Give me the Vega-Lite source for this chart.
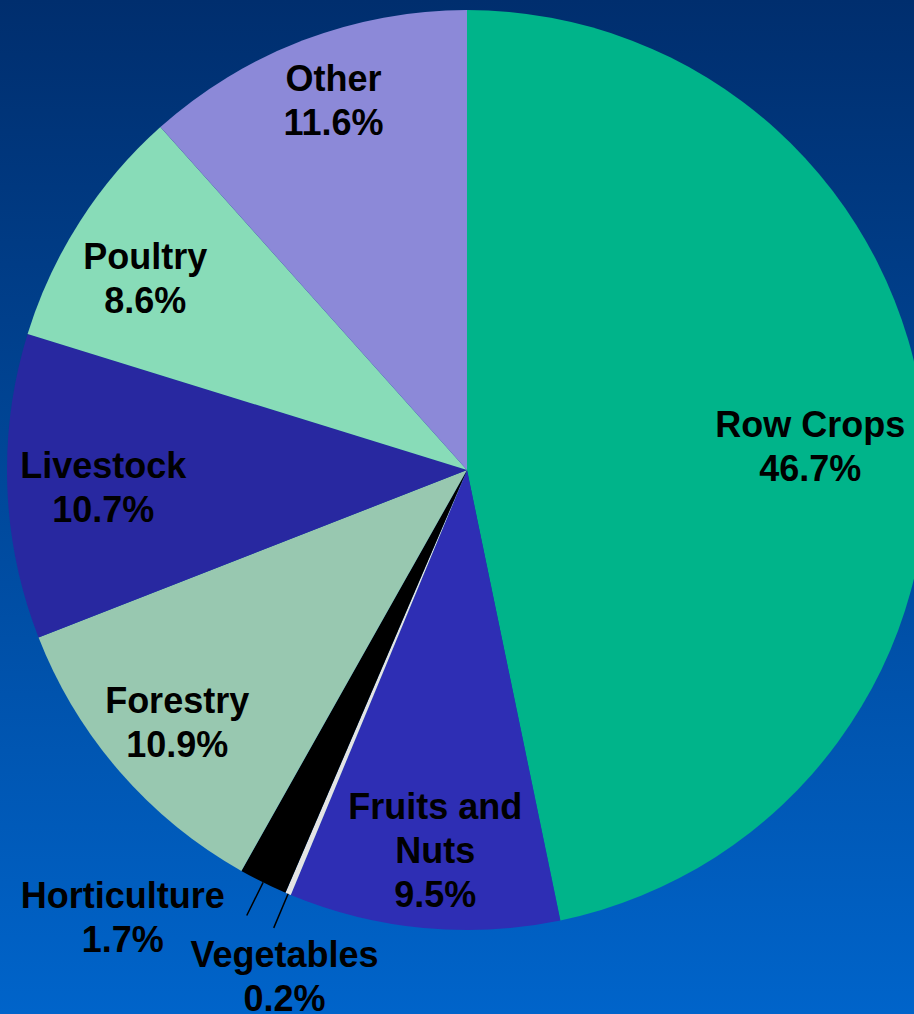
{
  "$schema": "https://vega.github.io/schema/vega-lite/v6.json",
  "width": 914,
  "height": 1014,
  "autosize": {"type": "none"},
  "padding": 0,
  "background": "#0050A8",
  "config": {
    "view": {"stroke": null},
    "text": {"font": "Liberation Sans", "fontWeight": "bold", "fontSize": 36, "lineHeight": 44, "color": "black", "lineBreak": "\n"}
  },
  "data": {
    "values": [
      {"category": "Row Crops", "label": "Row Crops", "share": 0.467, "rank": 1},
      {"category": "Fruits and Nuts", "label": "Fruits and\nNuts", "share": 0.095, "rank": 2},
      {"category": "Vegetables", "label": "Vegetables", "share": 0.002, "rank": 3},
      {"category": "Horticulture", "label": "Horticulture", "share": 0.017, "rank": 4},
      {"category": "Forestry", "label": "Forestry", "share": 0.109, "rank": 5},
      {"category": "Livestock", "label": "Livestock", "share": 0.107, "rank": 6},
      {"category": "Poultry", "label": "Poultry", "share": 0.086, "rank": 7},
      {"category": "Other", "label": "Other", "share": 0.116, "rank": 8}
    ]
  },
  "layer": [
    {
      "data": {"values": [{"backdrop": "gradient"}]},
      "mark": {
        "type": "rect",
        "color": {"gradient": "linear", "x1": 0, "y1": 0, "x2": 0, "y2": 1,
          "stops": [{"offset": 0, "color": "#002E6E"}, {"offset": 1, "color": "#0064CA"}]}
      },
      "encoding": {}
    },
    {
      "encoding": {
        "theta": {"field": "share", "type": "quantitative", "stack": true},
        "order": {"field": "rank", "type": "quantitative"},
        "detail": {"field": "category", "type": "nominal"}
      },
      "layer": [
        {
          "mark": {"type": "arc", "radius": 460, "xOffset": 10, "yOffset": -37},
          "encoding": {
            "color": {
              "field": "category", "type": "nominal", "legend": null,
              "scale": {
                "domain": ["Row Crops", "Fruits and Nuts", "Vegetables", "Horticulture", "Forestry", "Livestock", "Poultry", "Other"],
                "range": ["#00B48A", "#2E2EB4", "#E4E4E4", "#000000", "#98C8B0", "#2828A0", "#88DCB8", "#8C89D8"]
              }
            }
          }
        },
        {
          "transform": [
            {"window": [{"op": "sum", "field": "share", "as": "cum_end"}], "sort": [{"field": "rank"}], "frame": [null, 0]},
            {"window": [{"op": "mean", "field": "cum_end", "as": "mid"}], "sort": [{"field": "rank"}], "frame": [-1, 0]},
            {"filter": {"field": "category", "oneOf": ["Horticulture", "Vegetables"]}}
          ],
          "mark": {"type": "arc", "radius": 497, "radius2": 460, "xOffset": 10, "yOffset": -37, "fill": "transparent", "stroke": "black", "strokeWidth": 1.5},
          "encoding": {
            "theta": {"field": "mid", "type": "quantitative", "stack": null},
            "theta2": {"field": "mid"}
          }
        },
        {
          "mark": {"type": "text", "radius": 345, "xOffset": 10, "yOffset": -37, "baseline": "bottom", "dy": 10},
          "encoding": {"text": {"condition": {"test": "datum.category === 'Row Crops'", "field": "label"}, "value": ""}}
        },
        {
          "mark": {"type": "text", "radius": 345, "xOffset": 10, "yOffset": -37, "baseline": "top", "dy": 18},
          "encoding": {"text": {"condition": {"test": "datum.category === 'Row Crops'", "field": "share", "type": "quantitative", "format": ".1%"}, "value": ""}}
        },
        {
          "mark": {"type": "text", "radius": 380, "xOffset": 10, "yOffset": -37, "baseline": "bottom", "dx": 4, "dy": -21},
          "encoding": {"text": {"condition": {"test": "datum.category === 'Fruits and Nuts'", "field": "label"}, "value": ""}}
        },
        {
          "mark": {"type": "text", "radius": 380, "xOffset": 10, "yOffset": -37, "baseline": "top", "dx": 4, "dy": 31},
          "encoding": {"text": {"condition": {"test": "datum.category === 'Fruits and Nuts'", "field": "share", "type": "quantitative", "format": ".1%"}, "value": ""}}
        },
        {
          "mark": {"type": "text", "radius": 499, "xOffset": 10, "yOffset": -37, "baseline": "bottom", "dx": -123, "dy": -1},
          "encoding": {"text": {"condition": {"test": "datum.category === 'Horticulture'", "field": "label"}, "value": ""}}
        },
        {
          "mark": {"type": "text", "radius": 499, "xOffset": 10, "yOffset": -37, "baseline": "top", "dx": -123, "dy": 7},
          "encoding": {"text": {"condition": {"test": "datum.category === 'Horticulture'", "field": "share", "type": "quantitative", "format": ".1%"}, "value": ""}}
        },
        {
          "mark": {"type": "text", "radius": 549, "xOffset": 10, "yOffset": -37, "baseline": "bottom", "dx": 31, "dy": -1},
          "encoding": {"text": {"condition": {"test": "datum.category === 'Vegetables'", "field": "label"}, "value": ""}}
        },
        {
          "mark": {"type": "text", "radius": 549, "xOffset": 10, "yOffset": -37, "baseline": "top", "dx": 31, "dy": 7},
          "encoding": {"text": {"condition": {"test": "datum.category === 'Vegetables'", "field": "share", "type": "quantitative", "format": ".1%"}, "value": ""}}
        },
        {
          "mark": {"type": "text", "radius": 380, "xOffset": 10, "yOffset": -37, "baseline": "bottom", "dx": -3, "dy": 2},
          "encoding": {"text": {"condition": {"test": "datum.category === 'Forestry'", "field": "label"}, "value": ""}}
        },
        {
          "mark": {"type": "text", "radius": 380, "xOffset": 10, "yOffset": -37, "baseline": "top", "dx": -3, "dy": 10},
          "encoding": {"text": {"condition": {"test": "datum.category === 'Forestry'", "field": "share", "type": "quantitative", "format": ".1%"}, "value": ""}}
        },
        {
          "mark": {"type": "text", "radius": 380, "xOffset": 10, "yOffset": -37, "baseline": "bottom", "dx": 16, "dy": 2},
          "encoding": {"text": {"condition": {"test": "datum.category === 'Livestock'", "field": "label"}, "value": ""}}
        },
        {
          "mark": {"type": "text", "radius": 380, "xOffset": 10, "yOffset": -37, "baseline": "top", "dx": 16, "dy": 10},
          "encoding": {"text": {"condition": {"test": "datum.category === 'Livestock'", "field": "share", "type": "quantitative", "format": ".1%"}, "value": ""}}
        },
        {
          "mark": {"type": "text", "radius": 380, "xOffset": 10, "yOffset": -37, "baseline": "bottom", "dx": -2, "dy": 12},
          "encoding": {"text": {"condition": {"test": "datum.category === 'Poultry'", "field": "label"}, "value": ""}}
        },
        {
          "mark": {"type": "text", "radius": 380, "xOffset": 10, "yOffset": -37, "baseline": "top", "dx": -2, "dy": 20},
          "encoding": {"text": {"condition": {"test": "datum.category === 'Poultry'", "field": "share", "type": "quantitative", "format": ".1%"}, "value": ""}}
        },
        {
          "mark": {"type": "text", "radius": 380, "xOffset": 10, "yOffset": -37, "baseline": "bottom", "dx": 2, "dy": -16},
          "encoding": {"text": {"condition": {"test": "datum.category === 'Other'", "field": "label"}, "value": ""}}
        },
        {
          "mark": {"type": "text", "radius": 380, "xOffset": 10, "yOffset": -37, "baseline": "top", "dx": 2, "dy": -8},
          "encoding": {"text": {"condition": {"test": "datum.category === 'Other'", "field": "share", "type": "quantitative", "format": ".1%"}, "value": ""}}
        }
      ]
    }
  ]
}
